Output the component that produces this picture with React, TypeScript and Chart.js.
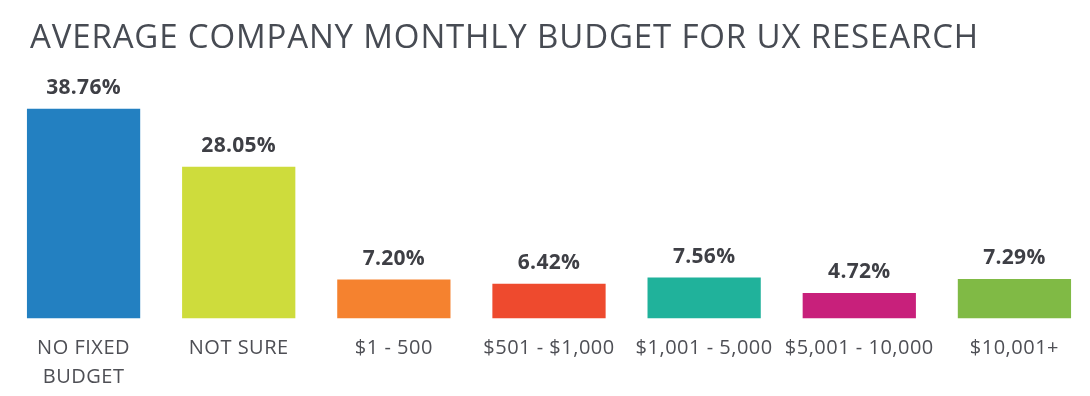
import React, { useEffect, useRef } from "react";
import { Chart, registerables } from "chart.js";

Chart.register(...registerables);

const TITLE = "AVERAGE COMPANY MONTHLY BUDGET FOR UX RESEARCH";
const categories: (string | string[])[] = [
  ["NO FIXED", "BUDGET"],
  "NOT SURE",
  "$1 - 500",
  "$501 - $1,000",
  "$1,001 - 5,000",
  "$5,001 - 10,000",
  "$10,001+",
];
const values = [38.76, 28.05, 7.2, 6.42, 7.56, 4.72, 7.29];
const barColors = ["#2380C1", "#CEDC3C", "#F5822F", "#EE4A2E", "#20B29B", "#C8207B", "#80BA45"];

const spacingPlugin = {
  id: "tickSpacing",
  beforeDraw(chart: any) {
    (chart.ctx as any).letterSpacing = "0.5px";
  },
  beforeLayout(chart: any) {
    (chart.ctx as any).letterSpacing = "0.5px";
  },
};

const titlePlugin = {
  id: "customTitle",
  afterDraw(chart: any) {
    const ctx = chart.ctx;
    ctx.save();
    ctx.font = "500 33px 'Open Sans'";
    (ctx as any).letterSpacing = "0.85px";
    ctx.fillStyle = "#474B53";
    ctx.textBaseline = "alphabetic";
    ctx.textAlign = "left";
    ctx.fillText(TITLE, 30, 48);
    ctx.restore();
  },
};

const valueLabelPlugin = {
  id: "valueLabels",
  afterDatasetsDraw(chart: any) {
    const ctx = chart.ctx;
    const meta = chart.getDatasetMeta(0);
    ctx.save();
    ctx.font = "700 21px 'Open Sans'";
    (ctx as any).letterSpacing = "0.3px";
    ctx.fillStyle = "#3E3F45";
    ctx.textAlign = "center";
    ctx.textBaseline = "alphabetic";
    meta.data.forEach((bar: any, i: number) => {
      const v = chart.data.datasets[0].data[i];
      ctx.fillText(v.toFixed(2) + "%", bar.x, bar.y - 15);
    });
    ctx.restore();
  },
};

export default function App() {
  const ref = useRef<HTMLCanvasElement>(null);
  useEffect(() => {
    document.body.style.margin = "0";
    const chart = new Chart(ref.current!, {
      type: "bar",
      data: {
        labels: categories,
        datasets: [
          {
            data: values,
            backgroundColor: barColors,
            borderWidth: 0,
            barPercentage: 0.73,
            categoryPercentage: 1,
          },
        ],
      },
      options: {
        responsive: false,
        animation: false,
        layout: { padding: { top: 75, left: 6, right: 1, bottom: -10.5 } },
        plugins: { legend: { display: false }, title: { display: false }, tooltip: { enabled: false } },
        scales: {
          x: {
            grid: { display: false, drawTicks: false },
            border: { display: false },
            ticks: {
              padding: 15,
              color: "#4E4F55",
              font: { family: "'Open Sans'", size: 20, lineHeight: 1.45 },
              maxRotation: 0,
              autoSkip: false,
            },
          },
          y: { display: false, min: 0, max: 45 },
        },
      },
      plugins: [spacingPlugin, titlePlugin, valueLabelPlugin],
    });
    return () => chart.destroy();
  }, []);
  return (
    <div style={{ position: "relative", width: 1090, height: 396, overflow: "hidden", background: "#fff" }}>
      <canvas ref={ref} width={1093} height={396} style={{ display: "block", width: 1093, height: 396 }} />
    </div>
  );
}
